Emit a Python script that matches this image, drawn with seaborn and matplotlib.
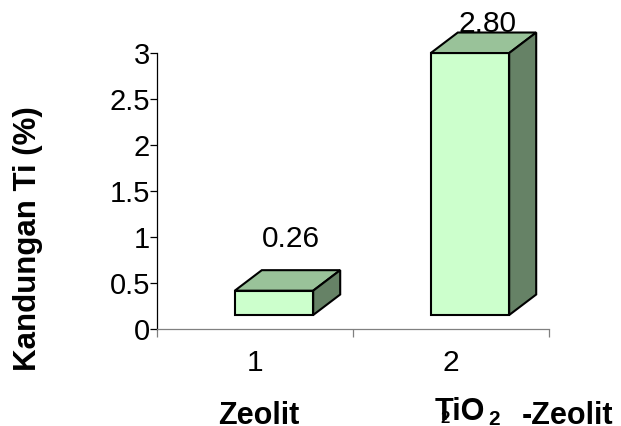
import matplotlib
matplotlib.use("Agg")
import matplotlib.pyplot as plt
import seaborn as sns
import pandas as pd
from matplotlib.patches import Polygon
from matplotlib.transforms import Affine2D, IdentityTransform

# Data
samples = ["1", "2"]
ti_content = [0.26, 2.80]
value_labels = ["0.26", "2.80"]
y_ticks = [0, 0.5, 1, 1.5, 2, 2.5, 3]
y_tick_labels = ["0", "0.5", "1", "1.5", "2", "2.5", "3"]

sns.set_theme(style="white")
plt.rcParams["font.family"] = ["Liberation Sans", "DejaVu Sans"]
plt.rcParams["text.color"] = "black"
plt.rcParams["axes.labelcolor"] = "black"
plt.rcParams["xtick.color"] = "black"
plt.rcParams["ytick.color"] = "black"

W, H = 621, 426
fig = plt.figure(figsize=(W / 100, H / 100), dpi=100)
ax = fig.add_axes([157 / W, 1 - 328.5 / H, (549 - 157) / W, (328.5 - 52.5) / H])

df = pd.DataFrame({"sample": samples, "ti": ti_content})
sns.barplot(data=df, x="sample", y="ti", ax=ax, width=0.4, color="#CCFFCC",
            saturation=1, edgecolor="black", linewidth=1.5, zorder=3)

ax.set_xlim(-0.5, 1.5)
ax.set_ylim(0, 3)
ax.set_xlabel("")
ax.set_ylabel("")

# axes styling
for s in ("top", "right"):
    ax.spines[s].set_visible(False)
ax.spines["left"].set_color("black")
ax.spines["left"].set_linewidth(0.9)
ax.spines["bottom"].set_color("#808080")
ax.spines["bottom"].set_linewidth(0.9)

ax.set_yticks(y_ticks)
ax.set_yticklabels(y_tick_labels)
ax.tick_params(axis="y", direction="out", length=5, width=0.9, color="black",
               labelcolor="black", labelsize=21, pad=0, left=True)
ax.set_xticks([-0.5, 0.5, 1.5])
ax.set_xticklabels([])
ax.set_xticks([0, 1], minor=True)
ax.set_xticklabels(samples, minor=True)
ax.tick_params(axis="x", which="major", direction="out", length=6, width=0.9,
               color="#808080", bottom=True)
ax.tick_params(axis="x", which="minor", length=0, labelsize=21.5,
               labelcolor="black", pad=15)

# 3-D look: shifted front face plus top and side faces
fig.canvas.draw()
ox, oy = ax.transData.transform((0, 0))
front_tr = ax.transData + Affine2D().translate(-ox, -oy).scale(1, 1.017).translate(ox + 19, oy + 13.5)
dx, dy = 27, 20.5
top_color = "#99C299"
side_color = "#668266"
bars = list(ax.patches)
for p in bars:
    p.set_transform(front_tr)
    p.set_clip_on(False)
    x0, y0 = p.get_x(), p.get_y()
    w, h = p.get_width(), p.get_height()
    (xl, yb), (xr, yt) = front_tr.transform([(x0, y0), (x0 + w, y0 + h)])
    top = Polygon([(xl, yt), (xr, yt), (xr + dx, yt + dy), (xl + dx, yt + dy)],
                  closed=True, facecolor=top_color, edgecolor="black",
                  linewidth=1.5, transform=IdentityTransform(), zorder=3,
                  clip_on=False, joinstyle="miter")
    side = Polygon([(xr, yb), (xr, yt), (xr + dx, yt + dy), (xr + dx, yb + dy)],
                   closed=True, facecolor=side_color, edgecolor="black",
                   linewidth=1.5, transform=IdentityTransform(), zorder=3,
                   clip_on=False, joinstyle="miter")
    ax.add_artist(top)
    ax.add_artist(side)

# value labels sit behind the bars
label_lift_px = [52, 29]
for p, txt, lift in zip(bars, value_labels, label_lift_px):
    x0, w, h = p.get_x(), p.get_width(), p.get_height()
    xc, yt = front_tr.transform((x0 + w / 2, h))
    ax.text(xc + 17, yt + lift, txt, transform=IdentityTransform(),
            ha="center", va="center", fontsize=21.5, color="black",
            zorder=1, clip_on=False)

# axis titles
fig.text(28 / W, 1 - 239 / H, "Kandungan Ti (%)", rotation=90, ha="center",
         va="center", fontsize=22.5, fontweight="bold")
fig.text(259 / W, 1 - 423.5 / H, "Zeolit", ha="center", va="baseline",
         fontsize=22, fontweight="bold")
fig.text(435 / W, 1 - 420 / H, "TiO", ha="left", va="baseline",
         fontsize=22, fontweight="bold")
fig.text(488 / W, 1 - 425 / H, "2", ha="left", va="baseline",
         fontsize=15, fontweight="bold")
fig.text(440 / W, 1 - 423 / H, "2", ha="left", va="baseline",
         fontsize=12, fontweight="bold")
fig.text(522 / W, 1 - 423.5 / H, "-Zeolit", ha="left", va="baseline",
         fontsize=22, fontweight="bold")

fig.savefig("out.png", dpi=100)
